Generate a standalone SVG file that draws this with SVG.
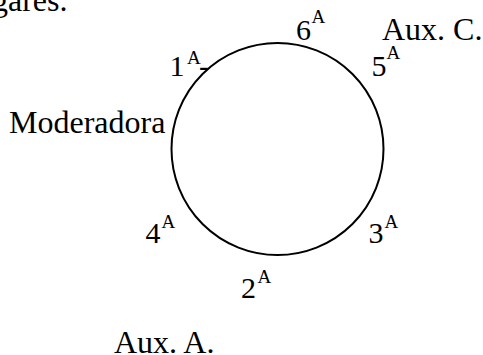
<svg xmlns="http://www.w3.org/2000/svg" width="483" height="355" viewBox="0 0 483 355">
<style>
text{font-family:"Liberation Serif","Times New Roman",serif;fill:#000}
.lbl{font-size:32px}
.num{font-size:30px}
.sup{font-size:19px}
.ring{fill:none;stroke:#000;stroke-width:2}
</style>
<rect width="483" height="355" fill="#fff"/>
<text class="lbl" x="-8" y="11">gares.</text>
<g id="table"><circle class="ring" cx="277.5" cy="149" r="106"/></g>
<g id="connectors"></g>
<g id="moderadora"><text class="lbl" x="9" y="133">Moderadora</text></g>
<g id="aux-c"><text class="lbl" x="382" y="40">Aux. C.</text></g>
<g id="aux-a"><text class="lbl" x="114" y="353">Aux. A.</text></g>
<g id="seat1"><text class="num" x="169.5" y="76">1</text><text class="sup" x="187" y="63.5">A</text><text class="num" x="199" y="76">-</text></g>
<g id="seat2"><text class="num" x="241" y="298">2</text><text class="sup" x="257.5" y="283">A</text></g>
<g id="seat3"><text class="num" x="368.5" y="243">3</text><text class="sup" x="384.5" y="228">A</text></g>
<g id="seat4"><text class="num" x="145.5" y="243.3">4</text><text class="sup" x="161.5" y="228.3">A</text></g>
<g id="seat5"><text class="num" x="371.5" y="76">5</text><text class="sup" x="386.5" y="58.5">A</text></g>
<g id="seat6"><text class="num" x="296" y="40">6</text><text class="sup" x="311.5" y="23">A</text></g>
</svg>
